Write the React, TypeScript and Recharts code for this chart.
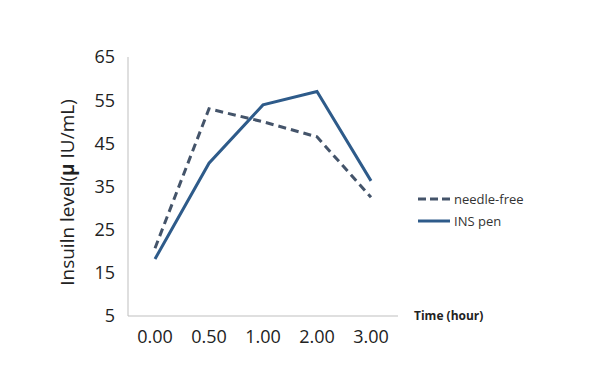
import { LineChart, Line, XAxis, YAxis, Label } from "recharts";

const times = ["0.00", "0.50", "1.00", "2.00", "3.00"];
const needleFree = [20.7, 53, 50, 46.5, 32.5];
const insPen = [18.2, 40.4, 53.9, 57, 36.3];
const yTicks = [5, 15, 25, 35, 45, 55, 65];

const data = times.map((t, i) => ({ time: t, needleFree: needleFree[i], insPen: insPen[i] }));

const font = "'Open Sans', 'Liberation Sans', sans-serif";
const dashColor = "#44546a";
const solidColor = "#2e5b8a";

const legendItems = [
  { name: "needle-free", color: dashColor, dash: "8 4" },
  { name: "INS pen", color: solidColor, dash: undefined },
];

function LegendBox() {
  return (
    <div style={{ position: "absolute", left: 417, top: 188, fontFamily: font, fontSize: 13, color: "#333" }}>
      {legendItems.map((it) => (
        <div key={it.name} style={{ display: "flex", alignItems: "center", height: 22 }}>
          <svg width={34} height={6} style={{ marginRight: 3 }}>
            <line x1={1} y1={3} x2={33} y2={3} stroke={it.color} strokeWidth={3} strokeDasharray={it.dash} />
          </svg>
          <span>{it.name}</span>
        </div>
      ))}
    </div>
  );
}

export default function App() {
  return (
    <div style={{ position: "absolute", left: 0, top: 0, width: 604, height: 379, background: "#fff" }}>
      <LineChart width={604} height={379} data={data} margin={{ top: 57, right: 206, bottom: 33, left: 0 }}>
        <XAxis
          dataKey="time"
          height={30}
          interval={0}
          padding={{ left: 27, right: 27 }}
          stroke="#bfbfbf"
          tickLine={false}
          tickSize={0}
          tickMargin={14}
          tick={{ fill: "#222", fontSize: 18, fontFamily: font }}
        >
          <Label
            content={({ viewBox }: any) => (
              <text
                x={viewBox.x + viewBox.width + 16}
                y={viewBox.y + 4}
                fontFamily={font}
                fontSize={12}
                fontWeight="bold"
                fill="#222"
              >
                Time (hour)
              </text>
            )}
          />
        </XAxis>
        <YAxis
          width={128}
          domain={[5, 65]}
          ticks={yTicks}
          interval={0}
          stroke="#bfbfbf"
          tickLine={false}
          tickSize={0}
          tickMargin={13}
          tick={{ fill: "#222", fontSize: 18, fontFamily: font }}
        >
          <Label
            content={({ viewBox }: any) => (
              <text
                x={67}
                y={viewBox.y + viewBox.height / 2 + 6}
                transform={`rotate(-90, 67, ${viewBox.y + viewBox.height / 2 + 6})`}
                textAnchor="middle"
                dominantBaseline="central"
                fontFamily={font}
                fontSize={19}
                fill="#222"
              >
                Insuiln level(<tspan fontWeight="bold">μ</tspan> IU/mL)
              </text>
            )}
          />
        </YAxis>
        <Line
          dataKey="needleFree"
          name="needle-free"
          stroke={dashColor}
          strokeWidth={3}
          strokeDasharray="8 5"
          dot={false}
          activeDot={false}
          isAnimationActive={false}
        />
        <Line
          dataKey="insPen"
          name="INS pen"
          stroke={solidColor}
          strokeWidth={3}
          dot={false}
          activeDot={false}
          isAnimationActive={false}
        />
      </LineChart>
      <LegendBox />
    </div>
  );
}
